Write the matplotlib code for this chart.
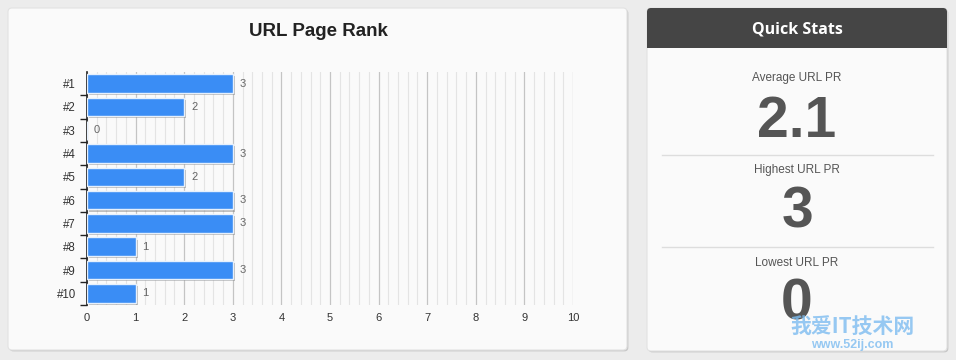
import numpy as np
import matplotlib
matplotlib.use("Agg")
import matplotlib.pyplot as plt
import matplotlib.patheffects as pe
from matplotlib.patches import FancyBboxPatch, Rectangle

plt.rcParams['font.family'] = ['Liberation Sans', 'DejaVu Sans']

urls = ["#1", "#2", "#3", "#4", "#5", "#6", "#7", "#8", "#9", "#10"]
page_rank = [3, 2, 0, 3, 2, 3, 3, 1, 3, 1]

stat_labels = ["Average URL PR", "Highest URL PR", "Lowest URL PR"]
stat_values = ["2.1", "3", "0"]

fig = plt.figure(figsize=(9.56, 3.6), dpi=100)
fig.patch.set_facecolor("#ececec")

# background layer in pixel coordinates
bg = fig.add_axes([0, 0, 1, 1])
bg.set_xlim(0, 956)
bg.set_ylim(360, 0)
bg.axis("off")

card_shadow = [pe.SimplePatchShadow(offset=(1, -1), shadow_rgbFace="#b0b0b0", alpha=0.6), pe.Normal()]

left_card = FancyBboxPatch((8, 8), 619, 342, boxstyle="round,pad=0,rounding_size=4",
                           fc="#fafafa", ec="#e2e2e2", lw=0.8)
left_card.set_path_effects(card_shadow)
bg.add_patch(left_card)

right_card = FancyBboxPatch((647, 8), 300, 343, boxstyle="round,pad=0,rounding_size=4",
                            fc="#fafafa", ec="#e2e2e2", lw=0.8)
right_card.set_path_effects(card_shadow)
bg.add_patch(right_card)

header = FancyBboxPatch((647, 8), 300, 40, boxstyle="round,pad=0,rounding_size=4",
                        fc="#454545", ec="none")
bg.add_patch(header)
bg.add_patch(Rectangle((647, 38), 300, 10, fc="#454545", ec="none"))
bg.text(797, 29, "Quick Stats", color="white", fontsize=11.5, fontweight="bold",
        family="Open Sans", ha="center", va="center")

bg.text(318, 32, "URL Page Rank", color="#222222", fontsize=13.5, fontweight="bold",
        ha="center", va="center")

label_y = [78, 170.5, 263]
value_base = [137, 228, 320]
for lab, val, ly, vb in zip(stat_labels, stat_values, label_y, value_base):
    bg.text(797, ly, lab, color="#555555", fontsize=8.5, ha="center", va="center")
    bg.text(797, vb, val, color="#555555", fontsize=41, fontweight="bold",
            ha="center", va="baseline")
for ly in [154.5, 247]:
    bg.plot([662, 933], [ly, ly], color="#dddddd", lw=1)

# watermark
bg.text(853, 326, "我爱IT技术网", color="#7dbcf0", fontsize=15, fontweight="bold",
        family=["Noto Sans CJK SC", "DejaVu Sans"], ha="center", va="center", alpha=0.8)
bg.text(852, 345, "www.52ij.com", color="#7dbcf0", fontsize=9, fontweight="bold",
        ha="center", va="center", alpha=0.8)

# bar chart
ax = fig.add_axes([87 / 956, 1 - 305 / 360, 486 / 956, 233 / 360])
ax.set_facecolor("none")
y = np.arange(len(urls))
bars = ax.barh(y, page_rank, height=0.8, color="#3a8df5", edgecolor="#e6f0fc",
               linewidth=1, zorder=3)
for b in bars:
    b.set_path_effects([pe.SimplePatchShadow(offset=(1.5, -1.5), shadow_rgbFace="#777777",
                                             alpha=0.45), pe.Normal()])
for yi, v in zip(y, page_rank):
    ax.annotate(str(v), (v, yi), xytext=(5, 0), textcoords="offset points",
                color="#666666", fontsize=8, va="center", ha="left")

ax.set_xlim(0, 10)
ax.set_ylim(len(urls) - 0.5, -0.5)
ax.set_xticks(np.arange(0, 11, 1))
ax.set_xticks(np.arange(0, 10.01, 0.2), minor=True)
ax.grid(which="major", axis="x", color="#c4c4c4", lw=0.9, zorder=0)
ax.grid(which="minor", axis="x", color="#e4e4e4", lw=0.8, zorder=0)

ax.set_yticks(y)
ax.set_yticklabels(urls)
ax.set_yticks(np.arange(0.5, len(urls), 1), minor=True)
ax.tick_params(axis="y", which="major", length=0, pad=8, labelsize=8.3, labelcolor="#333333")
ax.tick_params(axis="y", which="minor", length=5, width=1, color="#222222", direction="out")
ax.tick_params(axis="x", which="both", length=0, pad=6, labelsize=8, labelcolor="#333333")

for s in ["top", "right", "bottom"]:
    ax.spines[s].set_visible(False)
ax.spines["left"].set_color("#222222")
ax.spines["left"].set_linewidth(1.2)

fig.savefig("out.png", dpi=100, facecolor=fig.get_facecolor())
